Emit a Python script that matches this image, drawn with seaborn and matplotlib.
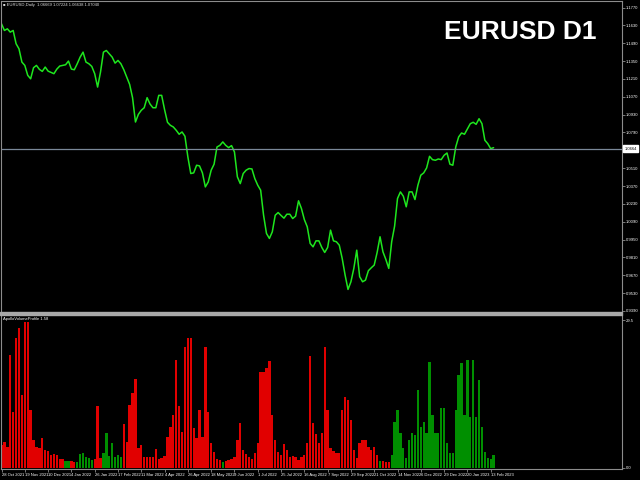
import numpy as np
import pandas as pd
import matplotlib
matplotlib.use("Agg")
import matplotlib.pyplot as plt
from matplotlib.patches import Rectangle
import seaborn as sns

# daily closes, one value every 2 bars (28 Oct 2021 -> mid Feb 2023)
close = [
    1.1642, 1.1590, 1.1603, 1.1577, 1.1590, 1.1486, 1.1446, 1.1342, 1.1316, 1.1238,
    1.1211, 1.1298, 1.1316, 1.1285, 1.1269, 1.1303, 1.1271, 1.1261, 1.1251, 1.1287,
    1.1311, 1.1316, 1.1321, 1.1350, 1.1287, 1.1282, 1.1329, 1.1381, 1.1420, 1.1342,
    1.1329, 1.1308, 1.1251, 1.1146, 1.1264, 1.1420, 1.1433, 1.1407, 1.1381, 1.1334,
    1.1355, 1.1329, 1.1282, 1.1225, 1.1167, 1.1063, 1.0872, 1.0932, 1.0964, 1.0984,
    1.1063, 1.1013, 1.0984, 1.0984, 1.1081, 1.1081, 1.0969, 1.0870, 1.0846, 1.0833,
    1.0807, 1.0776, 1.0794, 1.0760, 1.0598, 1.0468, 1.0473, 1.0533, 1.0528, 1.0473,
    1.0363, 1.0402, 1.0494, 1.0541, 1.0676, 1.0689, 1.0716, 1.0689, 1.0671, 1.0687,
    1.0637, 1.0442, 1.0389, 1.0468, 1.0494, 1.0507, 1.0504, 1.0428, 1.0376,
    1.0337, 1.0141, 0.9998, 0.9959, 1.0011, 1.0141, 1.0162, 1.0139, 1.0118, 1.0149,
    1.0149, 1.0115, 1.0134, 1.0254, 1.0194, 1.0107, 1.0050, 0.9920, 0.9893, 0.9940,
    0.9940, 0.9888, 0.9849, 0.9888, 1.0024, 0.9940, 0.9933, 0.9906, 0.9802, 0.9672,
    0.9559, 0.9619, 0.9724, 0.9867, 0.9659, 0.9619, 0.9632, 0.9706, 0.9729, 0.9750,
    0.9849, 0.9972, 0.9854, 0.9794, 0.9724, 0.9933, 1.0055, 1.0272, 1.0324, 1.0290,
    1.0207, 1.0324, 1.0324, 1.0264, 1.0376, 1.0455, 1.0473, 1.0512, 1.0603, 1.0577,
    1.0572, 1.0582, 1.0577, 1.0611, 1.0629, 1.0541, 1.0533, 1.0676, 1.0755, 1.0786,
    1.0776, 1.0817, 1.0859, 1.0870, 1.0854, 1.0898, 1.0859, 1.0729, 1.0702, 1.0663,
    1.0671,
]

# volume profile histogram, same bars as close
volume = [
    4.5, 5.2, 4.2, 22.5, 11.2, 25.9, 27.9, 14.5, 29.2, 29.2,
    11.5, 5.5, 4.2, 3.9, 5.9, 3.5, 3.4, 2.5, 2.7, 2.5,
    1.7, 1.7, 1.4, 1.3, 1.3, 1.1, 1.2, 2.7, 2.9, 2.1,
    1.9, 1.5, 1.8, 12.3, 1.9, 2.9, 6.9, 2.3, 4.9, 2.2,
    2.5, 2.2, 8.7, 5.2, 12.5, 14.9, 17.7, 3.9, 4.5, 2.2,
    2.2, 2.1, 2.2, 3.7, 1.7, 1.9, 2.3, 6.2, 8.2, 10.5,
    21.5, 12.3, 7.2, 24.2, 25.9, 25.9, 7.9, 5.9, 11.5, 6.1,
    24.2, 11.2, 4.9, 3.2, 1.7, 1.5, 1.2, 1.4, 1.5, 1.7,
    2.2, 5.5, 8.9, 3.5, 2.7, 2.1, 1.7, 3.0, 4.9, 19.2,
    19.2, 19.9, 21.4, 10.5, 5.5, 3.2, 2.5, 4.7, 3.5, 2.2,
    2.3, 2.1, 1.5, 2.2, 2.5, 4.9, 22.3, 8.9, 6.7, 4.9,
    6.9, 24.1, 11.5, 3.9, 3.4, 3.0, 2.9, 11.5, 14.2, 13.5,
    9.5, 3.5, 1.9, 5.0, 5.5, 5.5, 4.2, 3.5, 4.2, 2.5,
    1.3, 1.3, 1.1, 1.2, 2.5, 9.2, 11.5, 6.9, 3.9, 1.9,
    5.5, 6.9, 6.5, 15.5, 8.2, 9.2, 6.9, 21.2, 10.5, 6.9,
    6.9, 11.9, 11.9, 4.9, 2.9, 2.9, 11.5, 18.5, 20.9, 10.5,
    21.5, 10.2, 21.5, 10.2, 17.5, 8.2, 3.2, 1.9, 1.7, 2.5,
]

# bar ranges where the histogram is green
up_spans = [(44, 46), (52, 62), (70, 82), (152, 152), (260, 260), (268, 338)]

date_labels = [
    "28 Oct 2021", "19 Nov 2021", "10 Dec 2021", "4 Jan 2022", "26 Jan 2022",
    "17 Feb 2022", "11 Mar 2022", "4 Apr 2022", "26 Apr 2022", "18 May 2022",
    "9 Jun 2022", "1 Jul 2022", "25 Jul 2022", "16 Aug 2022", "7 Sep 2022",
    "29 Sep 2022", "21 Oct 2022", "14 Nov 2022", "6 Dec 2022", "29 Dec 2022",
    "20 Jan 2023", "13 Feb 2023",
]
# 1.0650 sits under the current-price box, so it is left out
price_labels = [
    "1.1770", "1.1630", "1.1490", "1.1350", "1.1210", "1.1070", "1.0930", "1.0790",
    "1.0510", "1.0370", "1.0230", "1.0090", "0.9950", "0.9810", "0.9670",
    "0.9530", "0.9390",
]
last_price = 1.0664
header = "\u25a0 EURUSD,Daily  1.06669 1.07224 1.06638 1.07040"

step = 2
df = pd.DataFrame({"bar": np.arange(len(close)) * step, "close": close, "volume": volume})
df["trend"] = "down"
for a, b in up_spans:
    df.loc[df["bar"].between(a, b), "trend"] = "up"

sns.set_theme(style="dark", rc={
    "axes.facecolor": "black", "figure.facecolor": "black",
    "axes.edgecolor": "#8c8c8c", "axes.linewidth": 0.8, "axes.grid": False,
    "text.color": "white", "xtick.color": "#8c8c8c", "ytick.color": "#8c8c8c",
})
plt.rcParams["font.family"] = ["Liberation Sans", "DejaVu Sans"]

W, H = 640, 480
def box(x0, y0, x1, y1):
    return [x0 / W, 1 - y1 / H, (x1 - x0) / W, (y1 - y0) / H]

fig = plt.figure(figsize=(6.4, 4.8), dpi=100)
ax = fig.add_axes(box(0.5, 0.5, 622, 312))
axv = fig.add_axes(box(0.5, 315, 622, 469))
xlim = (-0.7, 426.2)
small = 3.0

# price panel
sns.lineplot(data=df, x="bar", y="close", ax=ax, color="#1ee61e", linewidth=1.1)
ax.axhline(last_price, color="#7a8899", linewidth=0.9)
ax.set_xlim(*xlim)
ax.set_ylim(0.9382, 1.1825)
ax.set_xticks([])
ax.yaxis.tick_right()
ax.set_yticks([float(p) for p in price_labels])
ax.set_yticklabels(price_labels)
ax.tick_params(axis="y", right=True, length=2, width=0.6, pad=1,
               labelsize=small, labelcolor="white")
ax.set_xlabel("")
ax.set_ylabel("")
ax.spines["bottom"].set_visible(False)
ax.text(1.004, last_price, f"{last_price:.4f}", transform=ax.get_yaxis_transform(),
        ha="left", va="center", fontsize=small, color="black", clip_on=False, zorder=5,
        bbox=dict(boxstyle="square,pad=0.25", fc="white", ec="white"))
ax.text(0.004, 0.992, header, transform=ax.transAxes, ha="left", va="top",
        fontsize=small, color="#dddddd")
fig.text(597 / W, 1 - 39 / H, "EURUSD D1", ha="right", va="baseline",
         fontsize=19, fontweight="bold", color="white")

# separator between panels
fig.add_artist(Rectangle((0, 1 - 315 / H), 622 / W, 3 / H, transform=fig.transFigure,
                         color="#a8a8a8", zorder=10))

# volume profile panel
sns.barplot(data=df, x="bar", y="volume", hue="trend",
            palette={"down": "#e10000", "up": "#008f00"}, native_scale=True,
            width=0.8, saturation=1, errorbar=None, legend=False, linewidth=0, ax=axv)
axv.set_xlim(*xlim)
axv.set_ylim(-0.26, 30.5)
axv.set_xlabel("")
axv.set_ylabel("")
axv.set_xticks([16 * k for k in range(len(date_labels))])
axv.set_xticklabels(date_labels, ha="left")
axv.tick_params(axis="x", bottom=True, length=2, width=0.6, pad=1,
                labelsize=small, labelcolor="white")
axv.yaxis.tick_right()
axv.set_yticks([0, 29.5])
axv.set_yticklabels(["0.0", "29.5"])
axv.tick_params(axis="y", right=True, length=2, width=0.6, pad=1,
                labelsize=small, labelcolor="white")
axv.spines["top"].set_visible(False)
axv.text(0.004, 0.985, "ApolloVolumeProfile 1.58", transform=axv.transAxes,
         ha="left", va="top", fontsize=small, color="white")

fig.savefig("out.png", dpi=100, facecolor="black")
